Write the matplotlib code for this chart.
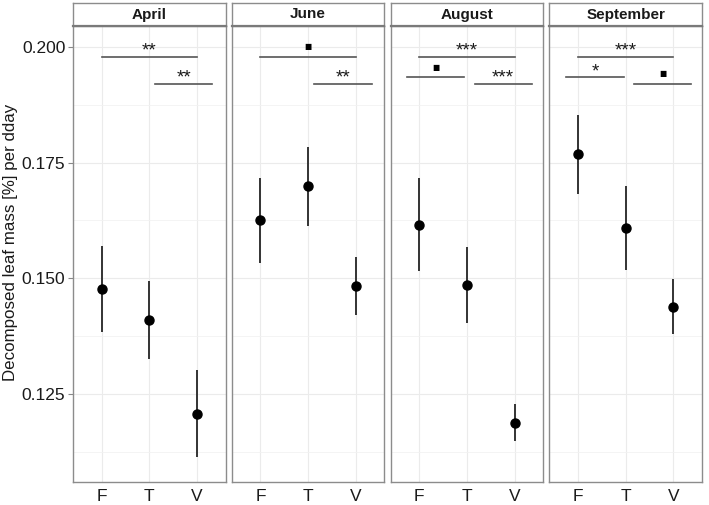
import numpy as np
import matplotlib
matplotlib.use('Agg')
import matplotlib.pyplot as plt
from matplotlib.ticker import MultipleLocator

plt.rcParams['font.family'] = ['Liberation Sans', 'DejaVu Sans']

months = ['April', 'June', 'August', 'September']
groups = ['F', 'T', 'V']

# mean and half-width of the error bar, per month (F, T, V)
means = {
    'April': [0.1477, 0.1410, 0.1207],
    'June': [0.1625, 0.1699, 0.1484],
    'August': [0.1616, 0.1486, 0.1188],
    'September': [0.1768, 0.1609, 0.1439],
}
errs = {
    'April': [0.0093, 0.0085, 0.0094],
    'June': [0.0092, 0.0085, 0.0063],
    'August': [0.0100, 0.0082, 0.0040],
    'September': [0.0085, 0.0090, 0.0060],
}

# significance brackets: (xmin, xmax, y, label)
signif = {
    'April': [(1.0, 3.0, 0.1979, '**'), (2.12, 3.32, 0.1920, '**')],
    'June': [(1.0, 3.0, 0.1979, '■'), (2.13, 3.34, 0.1920, '**')],
    'August': [(1.0, 3.0, 0.1979, '***'), (0.75, 1.95, 0.1934, '■'), (2.16, 3.36, 0.1920, '***')],
    'September': [(1.0, 3.0, 0.1979, '***'), (0.76, 1.96, 0.1934, '*'), (2.18, 3.38, 0.1920, '■')],
}

W, H = 709, 505
fig = plt.figure(figsize=(W / 100, H / 100), dpi=100)

left, right = 73, 702
gap = 6
pw = (right - left - 3 * gap) / 4
top, bottom, strip_top = 26, 482, 3
border = '#8c8c8c'

x = np.arange(1, 4)
for i, m in enumerate(months):
    x0 = left + i * (pw + gap)
    ax = fig.add_axes([x0 / W, 1 - bottom / H, pw / W, (bottom - top) / H])
    ax.set_xlim(0.4, 3.6)
    ax.set_ylim(0.1060, 0.2045)
    ax.yaxis.set_major_locator(MultipleLocator(0.025))
    ax.yaxis.set_minor_locator(MultipleLocator(0.0125))
    ax.set_xticks(x)
    ax.set_xticklabels(groups, fontsize=12.5, color='#1a1a1a')
    ax.grid(True, which='major', color='#ebebeb', lw=0.8)
    ax.grid(True, which='minor', axis='y', color='#f2f2f2', lw=0.6)
    ax.set_axisbelow(True)
    for s in ax.spines.values():
        s.set_color(border)
        s.set_linewidth(1.0)
    ax.tick_params(axis='x', length=0, pad=5)
    ax.tick_params(axis='y', which='minor', length=0)
    if i == 0:
        ax.set_yticks([0.125, 0.150, 0.175, 0.200])
        ax.set_yticklabels(['0.125', '0.150', '0.175', '0.200'], fontsize=12.5, color='#1a1a1a')
        ax.tick_params(axis='y', which='major', length=3.5, color='#888888', pad=2)
        ax.set_ylabel('Decomposed leaf mass [%] per dday', fontsize=12.2, color='#1a1a1a')
        # centred on panel + strip, like facet_wrap does
        ax.yaxis.set_label_coords(-0.36, (bottom - (strip_top + bottom) / 2) / (bottom - top),
                                  transform=ax.transAxes)
    else:
        ax.tick_params(axis='y', which='major', length=0, labelleft=False)

    ax.errorbar(x, means[m], yerr=errs[m], fmt='o', color='black', ecolor='#333333',
                elinewidth=1.4, capsize=0, markersize=6.5)

    for xa, xb, yv, lab in signif[m]:
        ax.plot([xa, xb], [yv, yv], color='#555555', lw=1.2, clip_on=False)
        if lab == '■':
            ax.text((xa + xb) / 2, yv + 0.0012, lab, ha='center', va='bottom',
                    fontsize=5.5, family=['DejaVu Sans'], color='black')
        else:
            ax.text((xa + xb) / 2, yv - 0.0006, lab, ha='center', va='bottom',
                    fontsize=13.5, color='#1a1a1a')

    # facet strip
    sax = fig.add_axes([x0 / W, 1 - top / H, pw / W, (top - strip_top) / H])
    sax.set_xticks([])
    sax.set_yticks([])
    sax.set_facecolor('white')
    for s in sax.spines.values():
        s.set_color(border)
        s.set_linewidth(1.0)
    sax.spines['bottom'].set_color('#7a7a7a')
    sax.spines['bottom'].set_linewidth(1.6)
    sax.text(0.5, 0.5, m, ha='center', va='center', fontsize=11, fontweight='bold',
             color='#1a1a1a', transform=sax.transAxes)

fig.savefig('out.png', dpi=100, facecolor='white')
